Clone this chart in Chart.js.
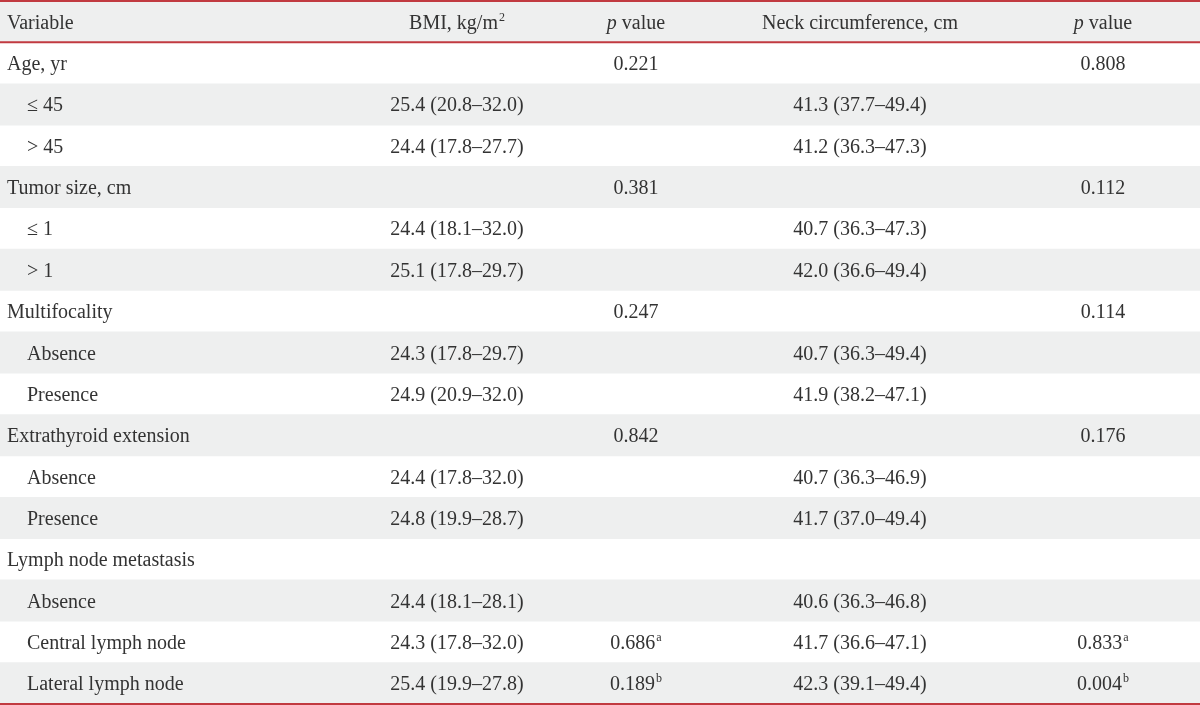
<!DOCTYPE html>
<html lang="en">
  <head>
    <meta charset="UTF-8" />
    <title>BMI and neck circumference</title>
    <script src="https://cdn.jsdelivr.net/npm/chart.js"></script>
    <style>
      html, body { margin: 0; padding: 0; background: #fff; }
      #wrap { width: 1200px; height: 705px; }
    </style>
  </head>
  <body>
    <div id="wrap"><canvas id="chart"></canvas></div>
    <script>
      // table content
      const headers = ["Variable", "BMI, kg/m^2", "p value", "Neck circumference, cm", "p value"];
      const variables = [
        "Age, yr", "≤ 45", "> 45",
        "Tumor size, cm", "≤ 1", "> 1",
        "Multifocality", "Absence", "Presence",
        "Extrathyroid extension", "Absence", "Presence",
        "Lymph node metastasis", "Absence", "Central lymph node", "Lateral lymph node"
      ];
      const subRow = [false, true, true, false, true, true, false, true, true, false, true, true, false, true, true, true];
      const bmi = [
        "", "25.4 (20.8–32.0)", "24.4 (17.8–27.7)",
        "", "24.4 (18.1–32.0)", "25.1 (17.8–29.7)",
        "", "24.3 (17.8–29.7)", "24.9 (20.9–32.0)",
        "", "24.4 (17.8–32.0)", "24.8 (19.9–28.7)",
        "", "24.4 (18.1–28.1)", "24.3 (17.8–32.0)", "25.4 (19.9–27.8)"
      ];
      const pBmi = ["0.221", "", "", "0.381", "", "", "0.247", "", "", "0.842", "", "", "", "", "0.686^a", "0.189^b"];
      const neck = [
        "", "41.3 (37.7–49.4)", "41.2 (36.3–47.3)",
        "", "40.7 (36.3–47.3)", "42.0 (36.6–49.4)",
        "", "40.7 (36.3–49.4)", "41.9 (38.2–47.1)",
        "", "40.7 (36.3–46.9)", "41.7 (37.0–49.4)",
        "", "40.6 (36.3–46.8)", "41.7 (36.6–47.1)", "42.3 (39.1–49.4)"
      ];
      const pNeck = ["0.808", "", "", "0.112", "", "", "0.114", "", "", "0.176", "", "", "", "", "0.833^a", "0.004^b"];

      const rowLabels = ["header"].concat(variables);
      const columns = [variables, bmi, pBmi, neck, pNeck];

      // layout
      const colX = [7, 457, 636, 860, 1103];
      const colAlign = ["left", "center", "center", "center", "center"];
      const indent = 20;
      const font = "20px 'Liberation Serif', serif";
      const smallFont = "12px 'Liberation Serif', serif";
      const textColor = "#333333";
      const stripe = "#eeefef";
      const rule = "#c13a40";

      // gray bands on header + every other body row
      const stripeData = rowLabels.map((r, i) => (i === 0 || i % 2 === 0 ? [0, 1200] : null));

      function drawCell(ctx, text, x, y, align) {
        const parts = text.split("^");
        const main = parts[0];
        const sup = parts[1] || "";
        ctx.font = font;
        const wMain = ctx.measureText(main).width;
        ctx.font = smallFont;
        const wSup = sup ? ctx.measureText(sup).width + 1 : 0;
        let left = x;
        if (align === "center") left = x - (wMain + wSup) / 2;
        ctx.textAlign = "left";
        ctx.font = font;
        ctx.fillText(main, left, y);
        if (sup) {
          ctx.font = smallFont;
          ctx.fillText(sup, left + wMain + 1, y - 8);
        }
      }

      const tablePlugin = {
        id: "tableText",
        afterDatasetsDraw(chart) {
          const ctx = chart.ctx;
          const xs = chart.scales.x;
          const ys = chart.scales.y;
          const rowH = ys.getPixelForValue(1) - ys.getPixelForValue(0);
          ctx.save();
          ctx.fillStyle = textColor;
          ctx.textBaseline = "alphabetic";
          // header
          const hy = ys.getPixelForValue(0) + 7;
          headers.forEach((h, c) => {
            const x = xs.getPixelForValue(colX[c]);
            if (h === "p value") {
              ctx.font = "italic " + font;
              const wp = ctx.measureText("p").width;
              ctx.font = font;
              const wv = ctx.measureText(" value").width;
              const left = x - (wp + wv) / 2;
              ctx.textAlign = "left";
              ctx.font = "italic " + font;
              ctx.fillText("p", left, hy);
              ctx.font = font;
              ctx.fillText(" value", left + wp, hy);
            } else {
              drawCell(ctx, h, x, hy, colAlign[c]);
            }
          });
          // body
          for (let r = 0; r < variables.length; r++) {
            const y = ys.getPixelForValue(r + 1) + 7;
            columns.forEach((col, c) => {
              const t = col[r];
              if (!t) return;
              let x = xs.getPixelForValue(colX[c]);
              if (c === 0 && subRow[r]) x += indent;
              drawCell(ctx, t, x, y, colAlign[c]);
            });
          }
          // red rules
          ctx.strokeStyle = rule;
          ctx.lineWidth = 2;
          const top = ys.getPixelForValue(0) - rowH / 2;
          const mid = ys.getPixelForValue(0) + rowH / 2;
          const bot = ys.getPixelForValue(variables.length) + rowH / 2;
          [top, mid, bot].forEach((yy) => {
            ctx.beginPath();
            ctx.moveTo(xs.left, yy);
            ctx.lineTo(xs.right, yy);
            ctx.stroke();
          });
          ctx.restore();
        },
      };

      new Chart(document.getElementById("chart"), {
        type: "bar",
        data: {
          labels: rowLabels,
          datasets: [
            {
              data: stripeData,
              backgroundColor: stripe,
              borderWidth: 0,
              barPercentage: 1,
              categoryPercentage: 1,
            },
          ],
        },
        options: {
          indexAxis: "y",
          responsive: true,
          maintainAspectRatio: false,
          animation: false,
          layout: { padding: { top: 1, bottom: 1, left: 0, right: 0 } },
          plugins: { legend: { display: false }, tooltip: { enabled: false } },
          scales: {
            x: { type: "linear", min: 0, max: 1200, display: false },
            y: { type: "category", display: false, grid: { display: false } },
          },
        },
        plugins: [tablePlugin],
      });
    </script>
  </body>
</html>
